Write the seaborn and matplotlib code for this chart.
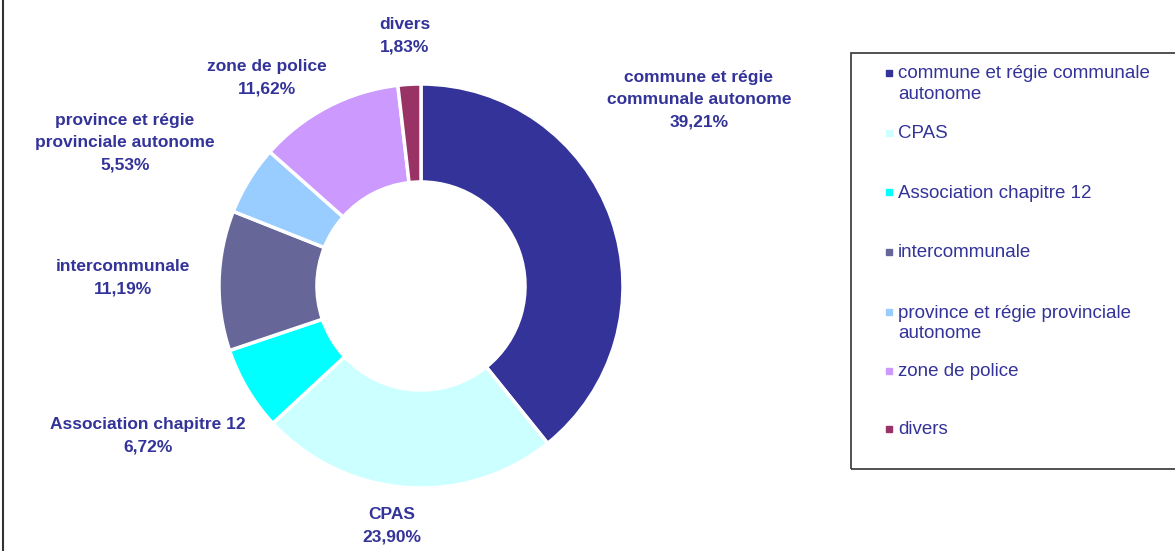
import matplotlib
matplotlib.use("Agg")
import matplotlib.pyplot as plt
import seaborn as sns
from matplotlib.patches import Rectangle
from matplotlib.lines import Line2D

sns.set_theme(style="white")
plt.rcParams['font.family'] = ['Liberation Sans', 'DejaVu Sans']

# données
categories = ["commune et régie communale autonome", "CPAS",
              "Association chapitre 12", "intercommunale",
              "province et régie provinciale autonome",
              "zone de police", "divers"]
pourcentages = [39.21, 23.90, 6.72, 11.19, 5.53, 11.62, 1.83]
etiquettes = ["commune et régie\ncommunale autonome", "CPAS",
              "Association chapitre 12", "intercommunale",
              "province et régie\nprovinciale autonome",
              "zone de police", "divers"]
legende = ["commune et régie communale\nautonome", "CPAS",
           "Association chapitre 12", "intercommunale",
           "province et régie provinciale\nautonome",
           "zone de police", "divers"]
couleurs = sns.color_palette(["#333399", "#CCFFFF", "#00FFFF", "#666699",
                              "#99CCFF", "#CC99FF", "#993366"])

bleu = "#333399"

# position des étiquettes (unités du rayon)
pos_etiq = [(1.376, 0.921), (-0.144, -1.188), (-1.351, -0.740),
            (-1.475, 0.042), (-1.465, 0.708), (-0.762, 1.032),
            (-0.079, 1.240)]

W, H = 1175, 551
fig = plt.figure(figsize=(W / 100, H / 100), dpi=100)
ax = fig.add_axes([0, 0, 850 / W, 1])
ax.pie(pourcentages, colors=couleurs, startangle=90, counterclock=False,
       radius=1, wedgeprops=dict(width=0.485, edgecolor="white", linewidth=2.5))
ax.set_aspect("auto")
ax.set_xlim(-421 / 202, (850 - 421) / 202)
ax.set_ylim(-265 / 202, (551 - 265) / 202)
ax.axis("off")

for lab, val, (x, y) in zip(etiquettes, pourcentages, pos_etiq):
    txt = lab + "\n" + ("%.2f%%" % val).replace(".", ",")
    ax.text(x, y, txt, ha="center", va="center", fontsize=12.5,
            fontweight="bold", color=bleu, linespacing=1.6)

# légende dessinée à la main (cadre Excel)
fig.add_artist(Rectangle((851 / W, 1 - 469 / H), 330 / W, 416 / H,
                         transform=fig.transFigure, fill=False,
                         edgecolor="#333333", linewidth=1.2, clip_on=False))
y_leg = [73, 133, 192, 252, 312, 371, 429]
for lab, c, yl in zip(legende, couleurs, y_leg):
    fy = 1 - yl / H
    fig.add_artist(Line2D([889 / W], [fy], marker="s", markersize=4,
                          color=c, linestyle="none",
                          transform=fig.transFigure))
    fig.text(898 / W, fy + 7.5 / H, lab, ha="left", va="top", fontsize=13.5,
             color=bleu, linespacing=1.3)

# bord gauche
fig.add_artist(Line2D([2.5 / W, 2.5 / W], [0, 1], color="#333333",
                      linewidth=1.5, transform=fig.transFigure))

fig.savefig("out.png", dpi=100)
